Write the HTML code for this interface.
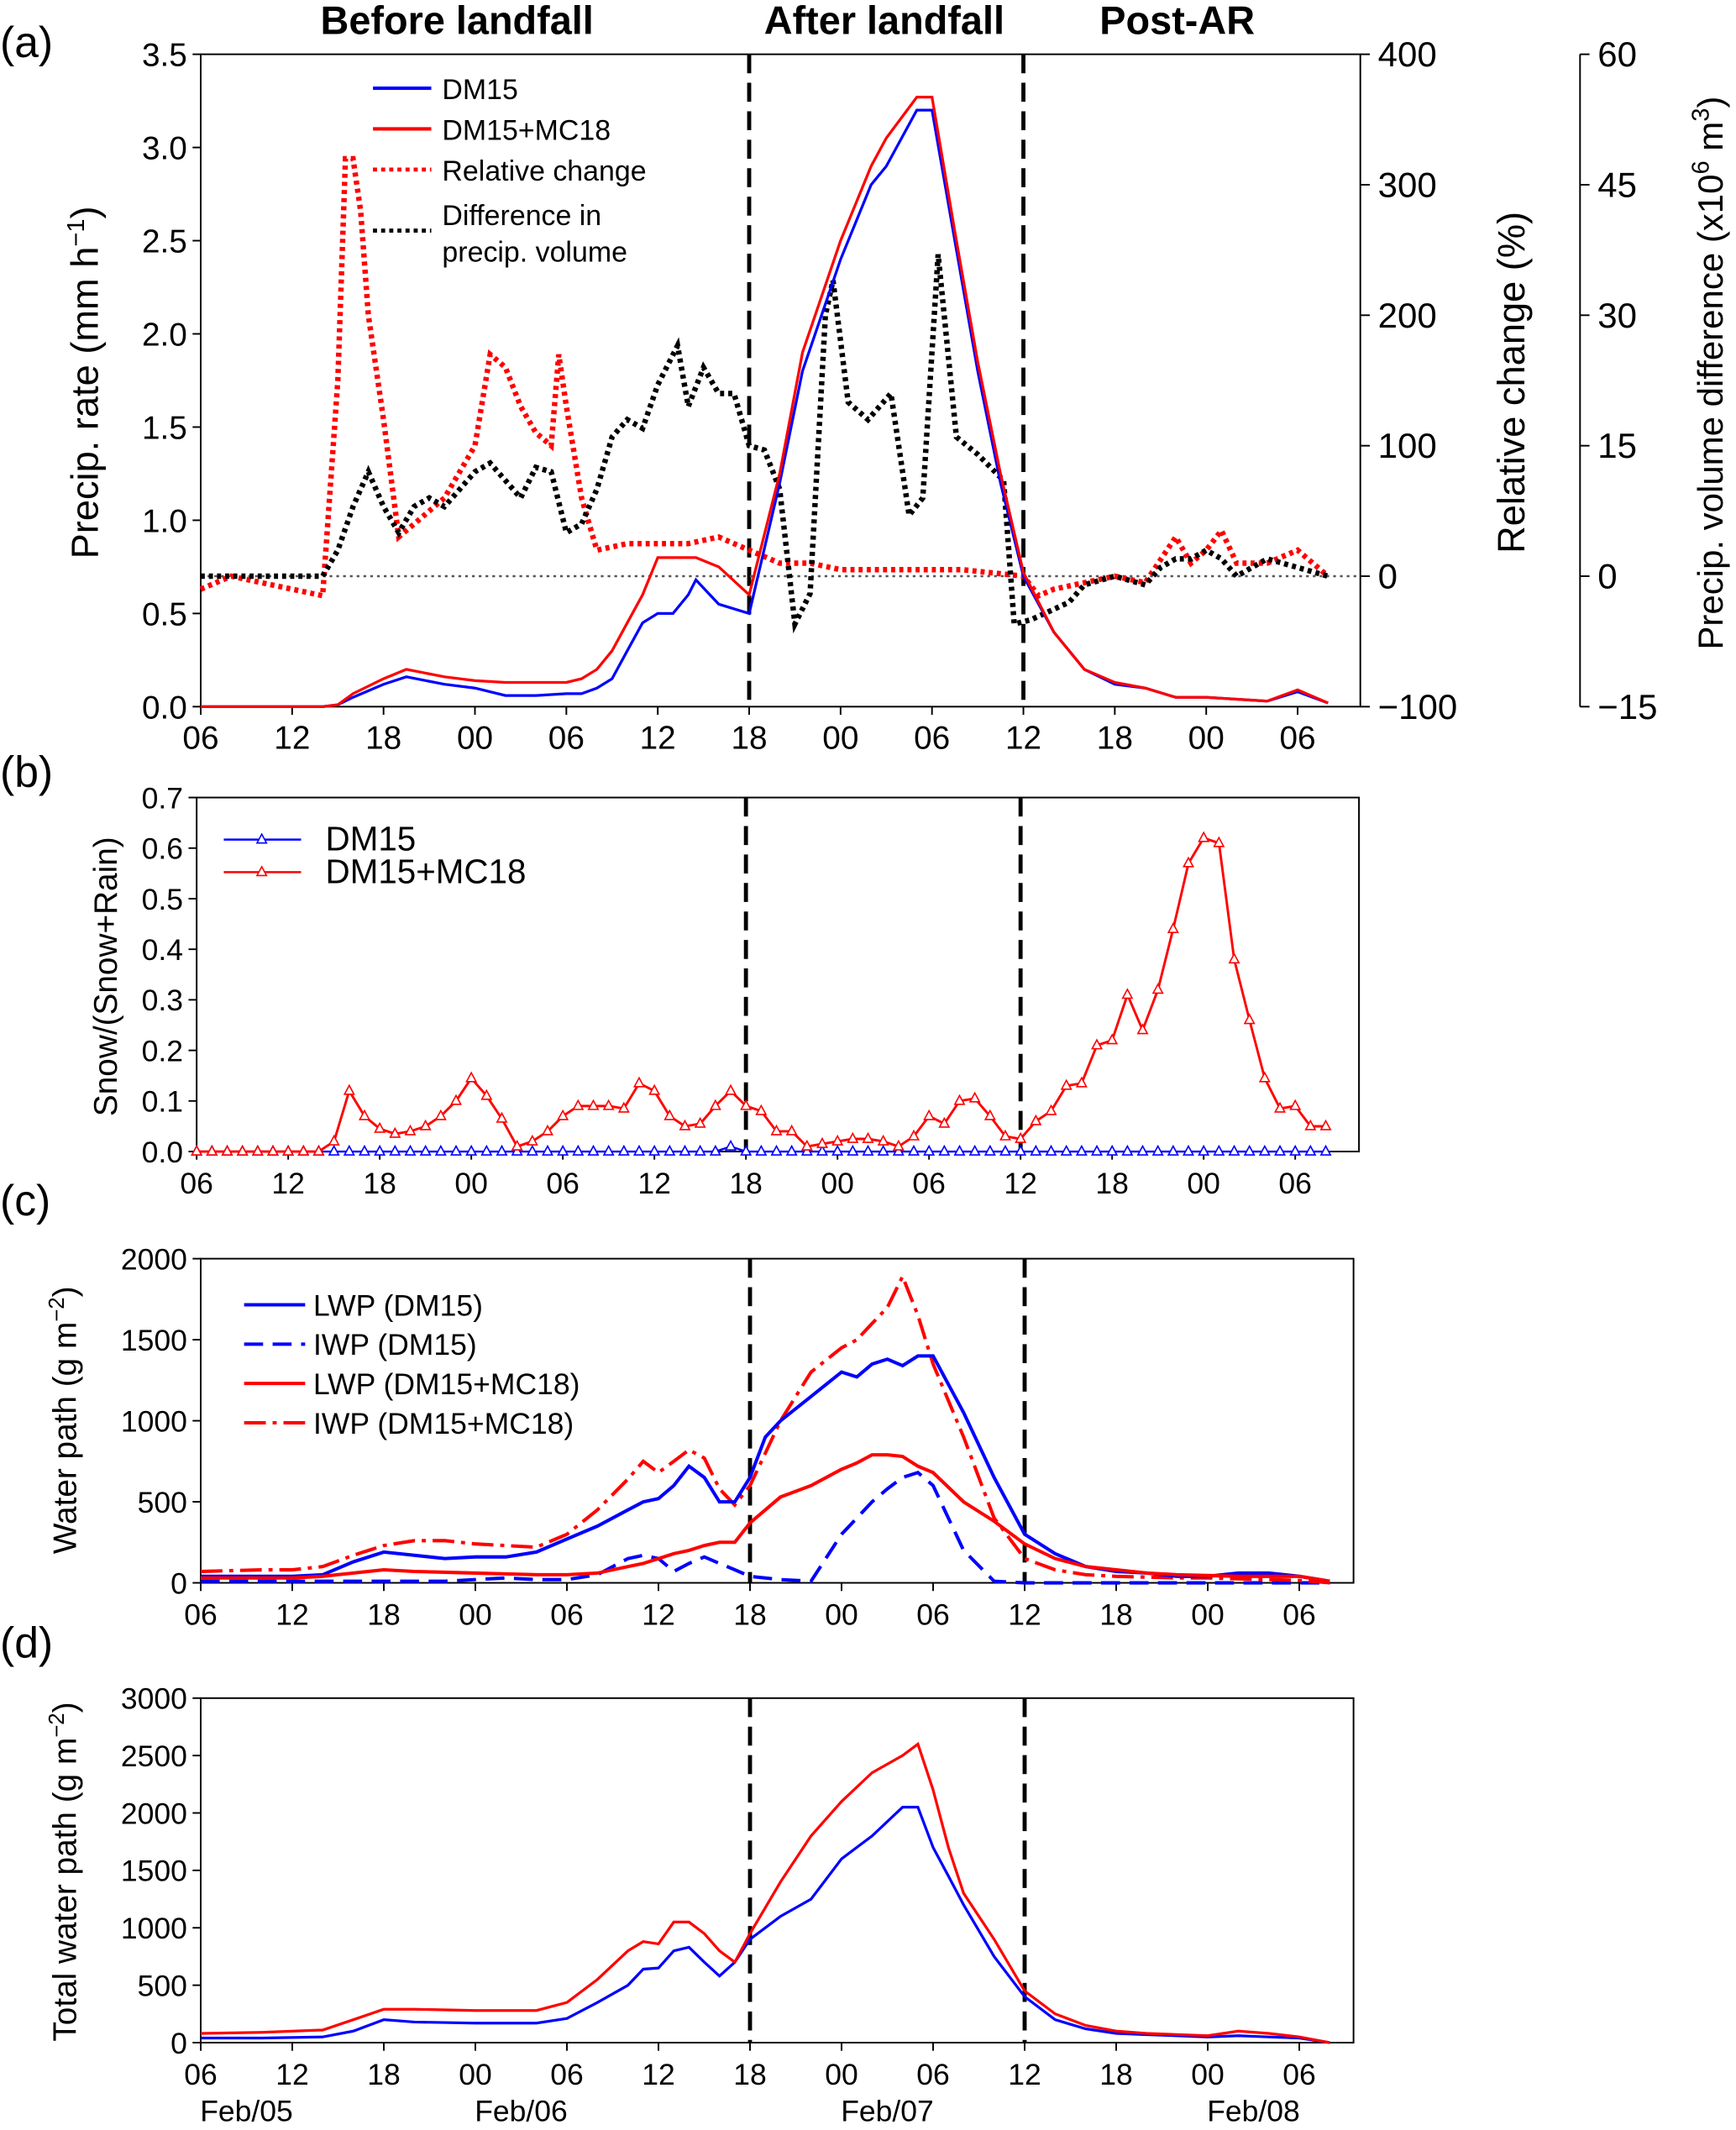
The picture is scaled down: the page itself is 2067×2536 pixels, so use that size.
<!DOCTYPE html>
<html><head><meta charset="utf-8"><style>
html,body{margin:0;padding:0;background:#fff;}
svg{display:block;font-family:"Liberation Sans","DejaVu Sans",sans-serif;}
</style></head><body>
<svg id="chart" width="2067" height="2536" viewBox="0 0 1280 1570.4" xmlns="http://www.w3.org/2000/svg"></svg>
<script>
// ---------- DATA ----------
const timeTicks = ["06","12","18","00","06","12","18","00","06","12","18","00","06"];
const dateLabels = ["Feb/05","Feb/06","Feb/07","Feb/08"];
const dateHours = [3,21,45,69];
const phaseLabels = ["Before landfall","After landfall","Post-AR"];
const landfallHours = [36,54];

// panel a
const aHours = [0,2,4,6,8,9,10,12,13.5,16,18,20,22,24,25,26,27,28,29,30,31,32,32.5,34,36,38,39.5,42,44,45,47,48,49.5,51,52.5,54,56,58,60,62,64,66,68,70,72,74];
const aDM15 = [0,0,0,0,0,0.01,0.05,0.12,0.16,0.12,0.10,0.06,0.06,0.07,0.07,0.1,0.15,0.3,0.45,0.5,0.5,0.6,0.68,0.55,0.5,1.2,1.8,2.4,2.8,2.9,3.2,3.2,2.5,1.8,1.2,0.7,0.4,0.2,0.12,0.1,0.05,0.05,0.04,0.03,0.08,0.02];
const aMC18 = [0,0,0,0,0,0.01,0.07,0.15,0.2,0.16,0.14,0.13,0.13,0.13,0.15,0.2,0.3,0.45,0.6,0.8,0.8,0.8,0.8,0.75,0.6,1.25,1.9,2.5,2.9,3.05,3.27,3.27,2.55,1.85,1.25,0.72,0.4,0.2,0.13,0.1,0.05,0.05,0.04,0.03,0.09,0.02];
const relHours = [0,2,4,6,8,9,9.5,10,10.5,11,12,13,14,16,18,19,20,21,22,23,23.5,24,25,26,28,30,32,34,36,38,40,42,46,50,54,55,56,58,60,62,64,65,66,67,68,70,72,74];
const relChange = [-10,0,-5,-10,-15,150,320,320,280,200,120,30,40,60,100,170,160,130,110,100,170,130,60,20,25,25,25,30,20,10,10,5,5,5,0,-15,-10,-5,0,-5,30,10,20,35,10,10,20,0];
const volHours = [0,2,4,6,8,9,10,11,12,13,14,15,16,17,18,19,20,21,22,23,24,25,26,27,28,29,30,31.3,32,33,34,35,36,37,38,39,40,41,41.5,42.5,43.8,45.3,46.5,47.4,48.4,49.6,51,52.7,53.4,54.5,57,58,60,62,63,64,65,66,67,68,70,72,74];
const volDiff = [0,0,0,0,0,3,8,12,8,5,8,9,8,10,12,13,11,9,12.5,12,5,6,10,16,18,17,22,26.5,19.5,24,21,21,15,14.5,10,-5.5,-2,30,34,20,18,21,7,9,37,16,14,11,-5.5,-5,-3,-1,0,-1,1,2,2,3,2,0,2,1,0];

// panel b
const bRatioMC18 = [0,0,0,0,0,0,0,0,0,0.02,0.12,0.07,0.045,0.035,0.04,0.05,0.07,0.1,0.145,0.11,0.065,0.01,0.02,0.04,0.07,0.09,0.09,0.09,0.085,0.135,0.12,0.07,0.05,0.055,0.09,0.12,0.09,0.08,0.04,0.04,0.01,0.015,0.02,0.025,0.025,0.02,0.01,0.03,0.07,0.055,0.1,0.105,0.07,0.03,0.025,0.06,0.08,0.13,0.135,0.21,0.22,0.31,0.24,0.32,0.44,0.57,0.62,0.61,0.38,0.26,0.145,0.085,0.09,0.05,0.05];
const bRatioDM15 = bRatioMC18.map((v,i)=> i===35 ? 0.01 : 0);

// panel c
const cHours = [0,2,4,6,8,10,12,14,16,18,20,22,24,26,28,29,30,31,32,33,34,35,36,37,38,40,42,43,44,45,46,47,48,50,52,54,56,58,60,62,64,66,68,70,72,74];
const lwpDM15 = [40,40,40,40,50,130,190,170,150,160,160,190,270,350,450,500,520,600,720,650,500,500,650,900,1000,1150,1300,1270,1350,1380,1340,1400,1400,1050,650,300,180,100,70,60,40,40,60,60,40,10];
const iwpDM15 = [10,10,10,10,10,10,10,10,10,20,30,20,20,50,150,170,150,70,120,160,120,80,40,30,20,10,300,400,500,580,650,680,600,200,10,0,0,0,0,0,0,0,0,0,0,0];
const lwpMC18 = [30,30,30,30,40,60,80,70,65,60,55,50,50,60,100,120,150,180,200,230,250,250,370,450,530,600,700,740,790,790,780,720,680,500,380,240,150,100,80,60,50,45,40,40,40,10];
const iwpMC18 = [70,75,80,80,100,170,230,260,260,240,230,220,300,450,640,750,680,750,820,770,580,480,600,800,1000,1300,1450,1500,1600,1700,1890,1650,1350,900,400,150,80,50,40,35,30,30,25,20,15,0];

// panel d
const dHours = [0,4,8,10,12,14,18,22,24,26,28,29,30,31,32,33,34,35,36,38,40,42,44,46,47,48,49,50,52,54,56,58,60,62,66,68,70,72,74];
const twpDM15 = [40,40,50,100,200,180,170,170,210,350,500,640,650,800,830,700,580,700,900,1100,1250,1600,1800,2050,2050,1700,1450,1200,750,400,200,120,80,70,50,60,50,40,0];
const twpMC18 = [80,90,110,200,290,290,280,280,350,550,800,880,860,1050,1050,950,800,700,950,1400,1800,2100,2350,2500,2600,2200,1700,1300,900,450,250,150,100,80,60,100,80,50,0];

const aYTicks = ["0.0","0.5","1.0","1.5","2.0","2.5","3.0","3.5"];
const aRelTicks = ["\u2212100","0","100","200","300","400"];
const aVolTicks = ["\u221215","0","15","30","45","60"];
const bYTicks = ["0.0","0.1","0.2","0.3","0.4","0.5","0.6","0.7"];
const cYTicks = ["0","500","1000","1500","2000"];
const dYTicks = ["0","500","1000","1500","2000","2500","3000"];

// ---------- DRAW ----------
const NS="http://www.w3.org/2000/svg";
const svg=document.getElementById('chart');
function el(tag,attrs,parent,text){const e=document.createElementNS(NS,tag);for(const k in attrs)e.setAttribute(k,attrs[k]);if(text!==undefined)e.textContent=text;(parent||svg).appendChild(e);return e;}

function makePanel(name,x0,x1,yT,yB,ymin,ymax,perH,tickFs){
  const g=el('g',{},svg);
  
  
  const P={g,x0,x1,yT,yB,ymin,ymax,
    X:h=>x0+h*perH,
    Y:v=>yB-(v-ymin)/(ymax-ymin)*(yB-yT)};
  const fr=el('rect',{x:x0,y:yT,width:x1-x0,height:yB-yT,fill:'none',stroke:'#000','stroke-width':1.2},g);
  
  
  timeTicks.forEach((t,i)=>{const x=P.X(i*6);
    el('line',{x1:x,x2:x,y1:yB,y2:yB+6,stroke:'#000','stroke-width':1.2},g);
    const tx=el('text',{x:x,y:yB+31,'font-size':tickFs,'text-anchor':'middle'},g,t);
    
    
  });
  landfallHours.forEach(h=>{const ln=el('line',{x1:P.X(h),x2:P.X(h),y1:yT,y2:yB,stroke:'#000','stroke-width':3,'stroke-dasharray':'14,7'},g);
    
    });
  return P;
}
function yTicks(P,labels,step,fs){labels.forEach((t,i)=>{const y=P.Y(P.ymin+i*step);
  el('line',{x1:P.x0-6,x2:P.x0,y1:y,y2:y,stroke:'#000','stroke-width':1.2},P.g);
  const tx=el('text',{x:P.x0-10,y:y+fs*0.36,'font-size':fs,'text-anchor':'end'},P.g,t);
  
  });}
function series(P,hours,vals,style,name,Y){
  const Yf=Y||P.Y;
  const d=hours.map((h,i)=>(i?'L':'M')+P.X(h).toFixed(1)+','+Yf(vals[i]).toFixed(1)).join(' ');
  const p=el('path',Object.assign({d:d,fill:'none'},style),P.g);
  
  
  return p;}
function vtext(x,y,txt,fs,name,anchor){const t=el('text',{x:x,y:y,'font-size':fs,'text-anchor':anchor||'middle',transform:`rotate(-90 ${x} ${y})`},svg);
  t.innerHTML=txt;
  
  return t;}
function label(x,y,txt,fs,name,extra){const t=el('text',Object.assign({x:x,y:y,'font-size':fs},extra||{}),svg);t.innerHTML=txt;
  
  return t;}

// ===== Panel A =====
const A=makePanel('panel-a',148,1003,40,521,0,3.5,11.233,24);
yTicks(A,aYTicks,0.5,24);
const Yrel=v=>521-(v+100)/500*481;
const Yvol=v=>521-(v+15)/75*481;
const zl=el('line',{x1:148,x2:1003,y1:Yrel(0),y2:Yrel(0),stroke:'#555','stroke-width':1.5,'stroke-dasharray':'2,3'},A.g);


aRelTicks.forEach((t,i)=>{const y=Yrel(-100+i*100);
  el('line',{x1:1003,x2:1010,y1:y,y2:y,stroke:'#000','stroke-width':1.2},A.g);
  const tx=el('text',{x:1016,y:y+9,'font-size':26},A.g,t);
  
  });
el('line',{x1:1165,x2:1165,y1:40,y2:521,stroke:'#000','stroke-width':1.2},A.g);
aVolTicks.forEach((t,i)=>{const y=Yvol(-15+i*15);
  el('line',{x1:1165,x2:1172,y1:y,y2:y,stroke:'#000','stroke-width':1.2},A.g);
  const tx=el('text',{x:1178,y:y+9,'font-size':26},A.g,t);
  
  });
series(A,relHours,relChange,{stroke:'#f00','stroke-width':4,'stroke-dasharray':'3,3'},'relative-change-line',Yrel);
series(A,volHours,volDiff,{stroke:'#000','stroke-width':4,'stroke-dasharray':'3,3'},'volume-difference-line',Yvol);
series(A,aHours,aDM15,{stroke:'#00f','stroke-width':2},'precip-dm15-line');
series(A,aHours,aMC18,{stroke:'#f00','stroke-width':2},'precip-mc18-line');
[[65,'#00f','none','DM15'],[95,'#f00','none','DM15+MC18'],[125,'#f00','3,3','Relative change'],[170,'#000','3,3','']].forEach(r=>{
  const ln=el('line',{x1:275,x2:318,y1:r[0],y2:r[0],stroke:r[1],'stroke-width':r[2]==='none'?2.5:3,'stroke-dasharray':r[2]},svg);
  
  
  if(r[3])label(326,r[0]+8,r[3],21,'legend-entry');});
label(326,166,'Difference in',21,'legend-entry');
label(326,193,'precip. volume',21,'legend-entry');
label(0,42,'(a)',32,'panel-label-a');
const phaseX=[337,652,868];
phaseLabels.forEach((t,i)=>label(phaseX[i],25,t,29,'phase-label',{'text-anchor':'middle','font-weight':'bold'}));
vtext(72,282,'Precip. rate (mm h<tspan dy="-10" font-size="18">\u22121</tspan><tspan dy="10">)</tspan>',28,'y-axis-title-precip-rate');
vtext(1124,282,'Relative change (%)',28,'y-axis-title-relative-change');
vtext(1270,275,'Precip. volume difference (x10<tspan dy="-10" font-size="18">6</tspan><tspan dy="10"> m</tspan><tspan dy="-10" font-size="18">3</tspan><tspan dy="10">)</tspan>',26,'y-axis-title-volume-difference');

// ===== Panel B =====
const B=makePanel('panel-b',145,1002,588,849,0,0.7,11.25,22);
yTicks(B,bYTicks,0.1,22);
const bHours=bRatioMC18.map((v,i)=>i);
function tri(P,h,v,color,name){const x=P.X(h),y=P.Y(v);
  const t=el('path',{d:`M${x},${y-4}L${x+3.5},${y+2.5}L${x-3.5},${y+2.5}Z`,fill:'#fff',stroke:color,'stroke-width':1},P.g);
  
  }
series(B,bHours,bRatioDM15,{stroke:'#00f','stroke-width':1.5},'ratio-dm15-line');
bHours.forEach((h,i)=>tri(B,h,bRatioDM15[i],'#00f','ratio-dm15-marker'));
series(B,bHours,bRatioMC18,{stroke:'#f00','stroke-width':1.8},'ratio-mc18-line');
bHours.forEach((h,i)=>tri(B,h,bRatioMC18[i],'#f00','ratio-mc18-marker'));
[[619,'#00f','DM15'],[643,'#f00','DM15+MC18']].forEach(r=>{
  const ln=el('line',{x1:165,x2:222,y1:r[0],y2:r[0],stroke:r[1],'stroke-width':1.5},svg);
  
  
  const x=193,y=r[0];el('path',{d:`M${x},${y-4}L${x+3.5},${y+2.5}L${x-3.5},${y+2.5}Z`,fill:'#fff',stroke:r[1]},svg);
  label(240,r[0]+8,r[2],25,'legend-entry');});
label(0,580,'(b)',32,'panel-label-b');
vtext(86,720,'Snow/(Snow+Rain)',24,'y-axis-title-snow-ratio');

// ===== Panel C =====
const C=makePanel('panel-c',148,998,928,1167,0,2000,11.25,22);
yTicks(C,cYTicks,500,22);
series(C,cHours,iwpDM15,{stroke:'#00f','stroke-width':2.5,'stroke-dasharray':'14,7'},'iwp-dm15-line');
series(C,cHours,iwpMC18,{stroke:'#f00','stroke-width':2.5,'stroke-dasharray':'16,5,3,5'},'iwp-mc18-line');
series(C,cHours,lwpDM15,{stroke:'#00f','stroke-width':2.5},'lwp-dm15-line');
series(C,cHours,lwpMC18,{stroke:'#f00','stroke-width':2.5},'lwp-mc18-line');
[[962,'#00f','none','LWP (DM15)'],[991,'#00f','14,7','IWP (DM15)'],[1020,'#f00','none','LWP (DM15+MC18)'],[1049,'#f00','16,5,3,5','IWP (DM15+MC18)']].forEach(r=>{
  const ln=el('line',{x1:180,x2:225,y1:r[0],y2:r[0],stroke:r[1],'stroke-width':2.5,'stroke-dasharray':r[2]},svg);
  
  
  label(231,r[0]+8,r[3],22,'legend-entry');});
label(0,896,'(c)',32,'panel-label-c');
vtext(56,1047,'Water path (g m<tspan dy="-9" font-size="16">\u22122</tspan><tspan dy="9">)</tspan>',24,'y-axis-title-water-path');

// ===== Panel D =====
const D=makePanel('panel-d',148,998,1252,1506,0,3000,11.25,22);
yTicks(D,dYTicks,500,22);
series(D,dHours,twpDM15,{stroke:'#00f','stroke-width':2},'twp-dm15-line');
series(D,dHours,twpMC18,{stroke:'#f00','stroke-width':2},'twp-mc18-line');
dateLabels.forEach((t,i)=>label(D.X(dateHours[i]),1564,t,22,'date-label',{'text-anchor':'middle'}));
label(0,1222,'(d)',32,'panel-label-d');
vtext(56,1380,'Total water path (g m<tspan dy="-9" font-size="16">\u22122</tspan><tspan dy="9">)</tspan>',24,'y-axis-title-total-water-path');
</script>
</body></html>
